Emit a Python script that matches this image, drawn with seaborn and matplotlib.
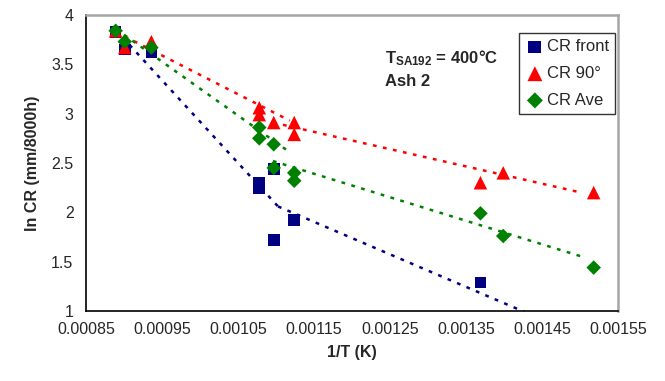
import numpy as np
import pandas as pd
import matplotlib
matplotlib.use("Agg")
import matplotlib.pyplot as plt
import seaborn as sns

# measured points, 1/T (1/K) vs ln CR
x_front = [0.000889, 0.000901, 0.000936, 0.001078, 0.001078, 0.001097, 0.001097, 0.001124, 0.001369]
cr_front = [3.83, 3.65, 3.62, 2.30, 2.24, 2.44, 1.72, 1.92, 1.29]

x_90 = [0.000889, 0.000901, 0.000936, 0.001078, 0.001078, 0.001097, 0.001124, 0.001124, 0.001369, 0.001399, 0.001518]
cr_90 = [3.84, 3.67, 3.73, 3.06, 2.99, 2.91, 2.91, 2.79, 2.30, 2.40, 2.20]

x_ave = [0.000889, 0.000901, 0.000936, 0.001078, 0.001078, 0.001097, 0.001097, 0.001124, 0.001124, 0.001369, 0.001399, 0.001518]
cr_ave = [3.84, 3.73, 3.67, 2.86, 2.75, 2.69, 2.45, 2.40, 2.32, 1.99, 1.76, 1.44]

# trend lines (two segments per series)
fit_front_a = ([0.000889, 0.001105], [3.85, 2.04])
fit_front_b = ([0.0011026, 0.0015], [2.06, 0.75])
fit_90_a = ([0.000889, 0.001118], [3.83, 2.93])
fit_90_b = ([0.001096, 0.001496], [2.91, 2.21])
fit_ave_a = ([0.000889, 0.001118], [3.86, 2.61])
fit_ave_b = ([0.001096, 0.001503], [2.52, 1.55])

series = ["CR front", "CR 90°", "CR Ave"]
colors = {"CR front": "#000080", "CR 90°": "#FF0000", "CR Ave": "#008000"}
markers = {"CR front": "s", "CR 90°": "^", "CR Ave": "D"}
sizes = {"CR front": 70, "CR 90°": 95, "CR Ave": 55}

sns.set_style("white")
plt.rcParams['font.family'] = ['Liberation Sans', 'DejaVu Sans']
plt.rcParams['mathtext.fontset'] = 'custom'
plt.rcParams['mathtext.rm'] = 'Liberation Sans'
plt.rcParams['mathtext.bf'] = 'Liberation Sans:bold'

df = pd.concat([
    pd.DataFrame({"x": x_front, "y": cr_front, "series": "CR front"}),
    pd.DataFrame({"x": x_90, "y": cr_90, "series": "CR 90°"}),
    pd.DataFrame({"x": x_ave, "y": cr_ave, "series": "CR Ave"}),
], ignore_index=True)

fig = plt.figure(figsize=(6.65, 3.81), dpi=100)
ax = fig.add_axes([86 / 665, 1 - 311 / 381, 532 / 665, 296 / 381])

fits = {
    "CR front": [fit_front_a, fit_front_b],
    "CR 90°": [fit_90_a, fit_90_b],
    "CR Ave": [fit_ave_a, fit_ave_b],
}
for name in series:
    for fx, fy in fits[name]:
        sns.lineplot(x=fx, y=fy, ax=ax, color=colors[name], linewidth=1.8,
                     linestyle=(0, (1.5, 2.6)), estimator=None, sort=False)

# draw front first so the others sit on top like in the original
for name in series:
    sub = df[df["series"] == name]
    ax.scatter(sub["x"], sub["y"], marker=markers[name], s=sizes[name],
               color=colors[name], edgecolor="none", label=name, zorder=3)

ax.set_xlim(0.00085, 0.00155)
ax.set_ylim(1, 4)
ax.set_xticks(np.arange(0.00085, 0.001551, 0.0001))
ax.set_xticklabels(["0.00085", "0.00095", "0.00105", "0.00115",
                    "0.00125", "0.00135", "0.00145", "0.00155"])
ax.set_yticks([1, 1.5, 2, 2.5, 3, 3.5, 4])
ax.set_yticklabels(["1", "1.5", "2", "2.5", "3", "3.5", "4"])
ax.tick_params(axis="both", direction="out", length=5, width=1, color="black",
               labelsize=11.5, pad=3)
ax.tick_params(axis="y", pad=4)

for s in ["left", "bottom"]:
    ax.spines[s].set_color("black")
    ax.spines[s].set_linewidth(1.2)
for s in ["top", "right"]:
    ax.spines[s].set_color("#A6A6A6")
    ax.spines[s].set_linewidth(1.8)

ax.set_xlabel("1/T (K)", fontsize=11.5, fontweight="bold", labelpad=6)
ax.set_ylabel("ln CR (mm/8000h)", fontsize=11.5, fontweight="bold", labelpad=8)

ax.text(0.562, 0.855, r"$\mathbf{T_{SA192}}$ = 400°C", transform=ax.transAxes,
        fontsize=12, fontweight="bold", va="center", ha="left")
ax.text(0.562, 0.775, "Ash 2", transform=ax.transAxes,
        fontsize=12, fontweight="bold", va="center", ha="left")

leg = ax.legend(loc="upper right", bbox_to_anchor=(0.995, 0.94), frameon=True,
                fancybox=False, edgecolor="black", fontsize=12,
                handletextpad=0.15, handlelength=1.1, borderpad=0.4,
                labelspacing=0.7, borderaxespad=0.0, markerscale=1.1)
leg.get_frame().set_linewidth(1.0)

fig.savefig("out.png", dpi=100)
